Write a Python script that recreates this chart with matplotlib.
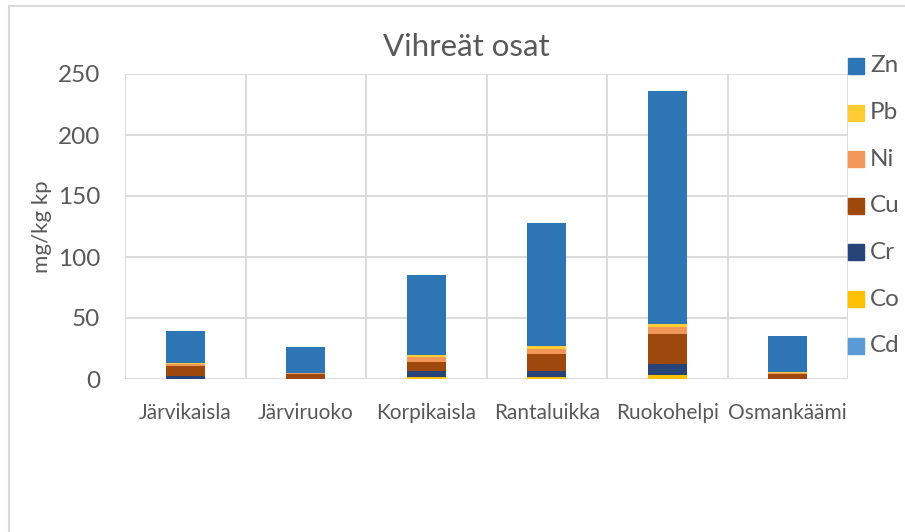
import matplotlib
matplotlib.use("Agg")
import matplotlib.pyplot as plt
from matplotlib.lines import Line2D
import numpy as np

plt.rcParams['font.family'] = ['Lato', 'DejaVu Sans']

categories = ["Järvikaisla", "Järviruoko", "Korpikaisla", "Rantaluikka", "Ruokohelpi", "Osmankäämi"]
metals = ["Cd", "Co", "Cr", "Cu", "Ni", "Pb", "Zn"]
Cd = [0.1, 0.0, 0.1, 0.1, 0.2, 0.0]
Co = [0.2, 0.1, 1.4, 1.9, 3.3, 0.1]
Cr = [2.0, 0.2, 5.4, 4.9, 9.0, 0.2]
Cu = [8.0, 4.2, 6.9, 13.2, 24.7, 4.0]
Ni = [2.2, 0.3, 4.6, 4.9, 5.2, 0.7]
Pb = [0.4, 0.2, 1.6, 2.2, 2.7, 0.5]
Zn = [26.8, 21.2, 65.5, 100.3, 191.0, 29.7]
series = [Cd, Co, Cr, Cu, Ni, Pb, Zn]
colors = ["#5B9BD5", "#FFC000", "#264478", "#9E480E", "#F1975A", "#FFCD33", "#2E75B6"]
yticks = [0, 50, 100, 150, 200, 250]

W, H = 905, 532
fig = plt.figure(figsize=(W / 100, H / 100), dpi=100)
ax = fig.add_axes([125 / W, 1 - 379 / H, (848 - 125) / W, (379 - 74) / H])

x = np.arange(len(categories))
bottom = np.zeros(len(categories))
for vals, col, name in zip(series, colors, metals):
    v = np.array(vals)
    ax.bar(x, v, width=0.32, bottom=bottom, color=col, edgecolor="none", zorder=3, label=name)
    bottom += v

grid_c = "#D9D9D9"
txt_c = "#595959"
ax.set_xlim(-0.5, len(categories) - 0.5)
ax.set_ylim(0, 250)
ax.set_yticks(yticks)
ax.set_xticks(x)
ax.set_xticklabels(categories)
for s in ax.spines.values():
    s.set_visible(False)
for yv in yticks:
    ax.axhline(yv, color=grid_c, lw=1.3, zorder=1)
for xv in np.arange(-0.5, len(categories), 1.0):
    ax.axvline(xv, color=grid_c, lw=1.3, zorder=1)
ax.tick_params(axis='both', length=0, colors=txt_c)
ax.tick_params(axis='y', labelsize=17.5, pad=18)
ax.tick_params(axis='x', labelsize=15, pad=17)
ax.set_ylabel("mg/kg kp", fontsize=16, color=txt_c, labelpad=4)

fig.text(466 / W, 1 - 47 / H, "Vihreät osat", ha="center", va="center", fontsize=22.5, color=txt_c)

# legend (custom placed)
leg_y = [66, 112.7, 159, 205.7, 252.3, 299, 345.7]
for i, (name, col) in enumerate(zip(metals[::-1], colors[::-1])):
    yc = leg_y[i]
    fig.patches.append(plt.Rectangle((848 / W, 1 - (yc + 8) / H), 16 / W, 16 / H,
                                     transform=fig.transFigure, color=col, figure=fig))
    fig.text(870 / W, 1 - yc / H, name, ha="left", va="center", fontsize=17.5, color=txt_c)

# outer frame (partial)
fig.add_artist(Line2D([9 / W, 9 / W], [0, 1 - 6 / H], color=grid_c, lw=1.5, transform=fig.transFigure))
fig.add_artist(Line2D([9 / W, 1], [1 - 6 / H, 1 - 6 / H], color=grid_c, lw=1.5, transform=fig.transFigure))

fig.savefig("out.png", dpi=100, facecolor="white")
